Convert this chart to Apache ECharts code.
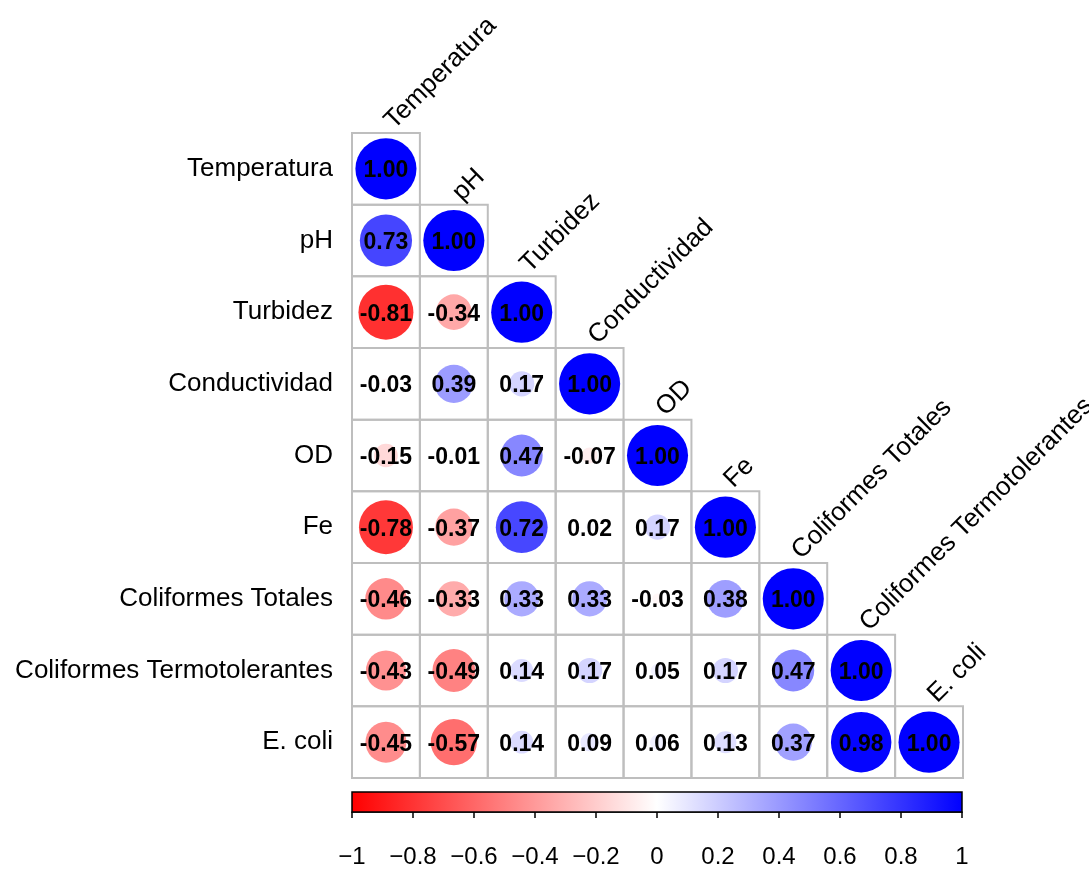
<!DOCTYPE html>
<html>
<head>
<meta charset="utf-8">
<style>
  html, body { margin: 0; padding: 0; background: #ffffff; }
  #chart { width: 1089px; height: 873px; }
</style>
<script src="https://cdn.jsdelivr.net/npm/echarts@6/dist/echarts.min.js"></script>
</head>
<body>
<div id="chart"></div>
<script>
// ---- Data ----
const variables = ['Temperatura', 'pH', 'Turbidez', 'Conductividad', 'OD', 'Fe',
  'Coliformes Totales', 'Coliformes Termotolerantes', 'E. coli'];

const rowTemperatura   = [1.00];
const rowPH            = [0.73, 1.00];
const rowTurbidez      = [-0.81, -0.34, 1.00];
const rowConductividad = [-0.03, 0.39, 0.17, 1.00];
const rowOD            = [-0.15, -0.01, 0.47, -0.07, 1.00];
const rowFe            = [-0.78, -0.37, 0.72, 0.02, 0.17, 1.00];
const rowColiTotales   = [-0.46, -0.33, 0.33, 0.33, -0.03, 0.38, 1.00];
const rowColiTermo     = [-0.43, -0.49, 0.14, 0.17, 0.05, 0.17, 0.47, 1.00];
const rowEcoli         = [-0.45, -0.57, 0.14, 0.09, 0.06, 0.13, 0.37, 0.98, 1.00];

const colorbarRange = [-1, 1];
const colorbarStep = 0.2;

// ---- Build series data ----
const rows = [rowTemperatura, rowPH, rowTurbidez, rowConductividad, rowOD,
  rowFe, rowColiTotales, rowColiTermo, rowEcoli];
const cellData = [];
rows.forEach((row, y) => row.forEach((v, x) => cellData.push([x, y, v])));
const labelData = variables.map((name, i) => [i, i]);

function corrColor(v) {
  const t = Math.min(1, Math.abs(v));
  const c = Math.round(255 * (1 - t));
  return v < 0 ? `rgb(255,${c},${c})` : `rgb(${c},${c},255)`;
}

const FONT = '"Liberation Sans", Arial, sans-serif';

const chart = echarts.init(document.getElementById('chart'));
chart.setOption({
  backgroundColor: '#ffffff',
  animation: false,
  grid: [
    { left: 352, top: 133, width: 611, height: 645 },
    { left: 352, top: 792, width: 610, height: 20 }
  ],
  xAxis: [
    { type: 'category', gridIndex: 0, data: variables, show: false },
    {
      type: 'value', gridIndex: 1, min: colorbarRange[0], max: colorbarRange[1],
      interval: colorbarStep, position: 'bottom',
      axisLine: { show: true, onZero: false, lineStyle: { color: '#000', width: 1.5 } },
      axisTick: { show: true, length: 6, lineStyle: { color: '#000', width: 1.5 } },
      splitLine: { show: false },
      axisLabel: {
        fontSize: 24, color: '#000', fontFamily: FONT, margin: 33,
        formatter: v => {
          const r = Math.round(v * 10) / 10;
          return r === 0 ? '0' : String(r).replace('-', '\u2212');
        }
      }
    }
  ],
  yAxis: [
    {
      type: 'category', gridIndex: 0, data: variables, inverse: true,
      axisLine: { show: false }, axisTick: { show: false }, splitLine: { show: false },
      axisLabel: { fontSize: 26, color: '#000', fontFamily: FONT, margin: 19 }
    },
    { type: 'value', gridIndex: 1, min: 0, max: 1, show: false }
  ],
  series: [
    {
      type: 'custom',
      xAxisIndex: 0, yAxisIndex: 0,
      data: cellData,
      renderItem: function (params, api) {
        const x = api.value(0), y = api.value(1), v = api.value(2);
        const c = api.coord([x, y]);
        const s = api.size([1, 1]);
        const r = Math.sqrt(Math.abs(v)) * 0.45 * Math.min(s[0], s[1]);
        return {
          type: 'group',
          children: [
            {
              type: 'rect',
              shape: { x: c[0] - s[0] / 2, y: c[1] - s[1] / 2, width: s[0], height: s[1] },
              style: { fill: 'none', stroke: '#BEBEBE', lineWidth: 2 }
            },
            {
              type: 'circle',
              shape: { cx: c[0], cy: c[1], r: r },
              style: { fill: corrColor(v) }
            },
            {
              type: 'text',
              style: {
                text: v.toFixed(2), x: c[0], y: c[1] + 2,
                align: 'center', verticalAlign: 'middle',
                font: 'bold 23px ' + FONT, fill: '#000'
              }
            }
          ]
        };
      }
    },
    {
      type: 'custom',
      xAxisIndex: 0, yAxisIndex: 0,
      data: labelData,
      renderItem: function (params, api) {
        const i = api.value(0);
        const c = api.coord([i, i]);
        const s = api.size([1, 1]);
        return {
          type: 'text',
          x: c[0] + 3,
          y: c[1] - s[1] / 2 - 8,
          rotation: Math.PI / 4,
          style: {
            text: variables[i], x: 0, y: 0,
            align: 'left', verticalAlign: 'middle',
            font: '26px ' + FONT, fill: '#000'
          }
        };
      }
    },
    {
      type: 'custom',
      xAxisIndex: 1, yAxisIndex: 1,
      data: [[colorbarRange[0], colorbarRange[1]]],
      renderItem: function (params, api) {
        const p0 = api.coord([api.value(0), 1]);
        const p1 = api.coord([api.value(1), 0]);
        return {
          type: 'rect',
          shape: { x: p0[0], y: p0[1], width: p1[0] - p0[0], height: p1[1] - p0[1] },
          style: {
            fill: new echarts.graphic.LinearGradient(0, 0, 1, 0, [
              { offset: 0, color: '#FF0000' },
              { offset: 0.5, color: '#FFFFFF' },
              { offset: 1, color: '#0000FF' }
            ]),
            stroke: '#000', lineWidth: 1.5
          }
        };
      }
    }
  ]
});
</script>
</body>
</html>
